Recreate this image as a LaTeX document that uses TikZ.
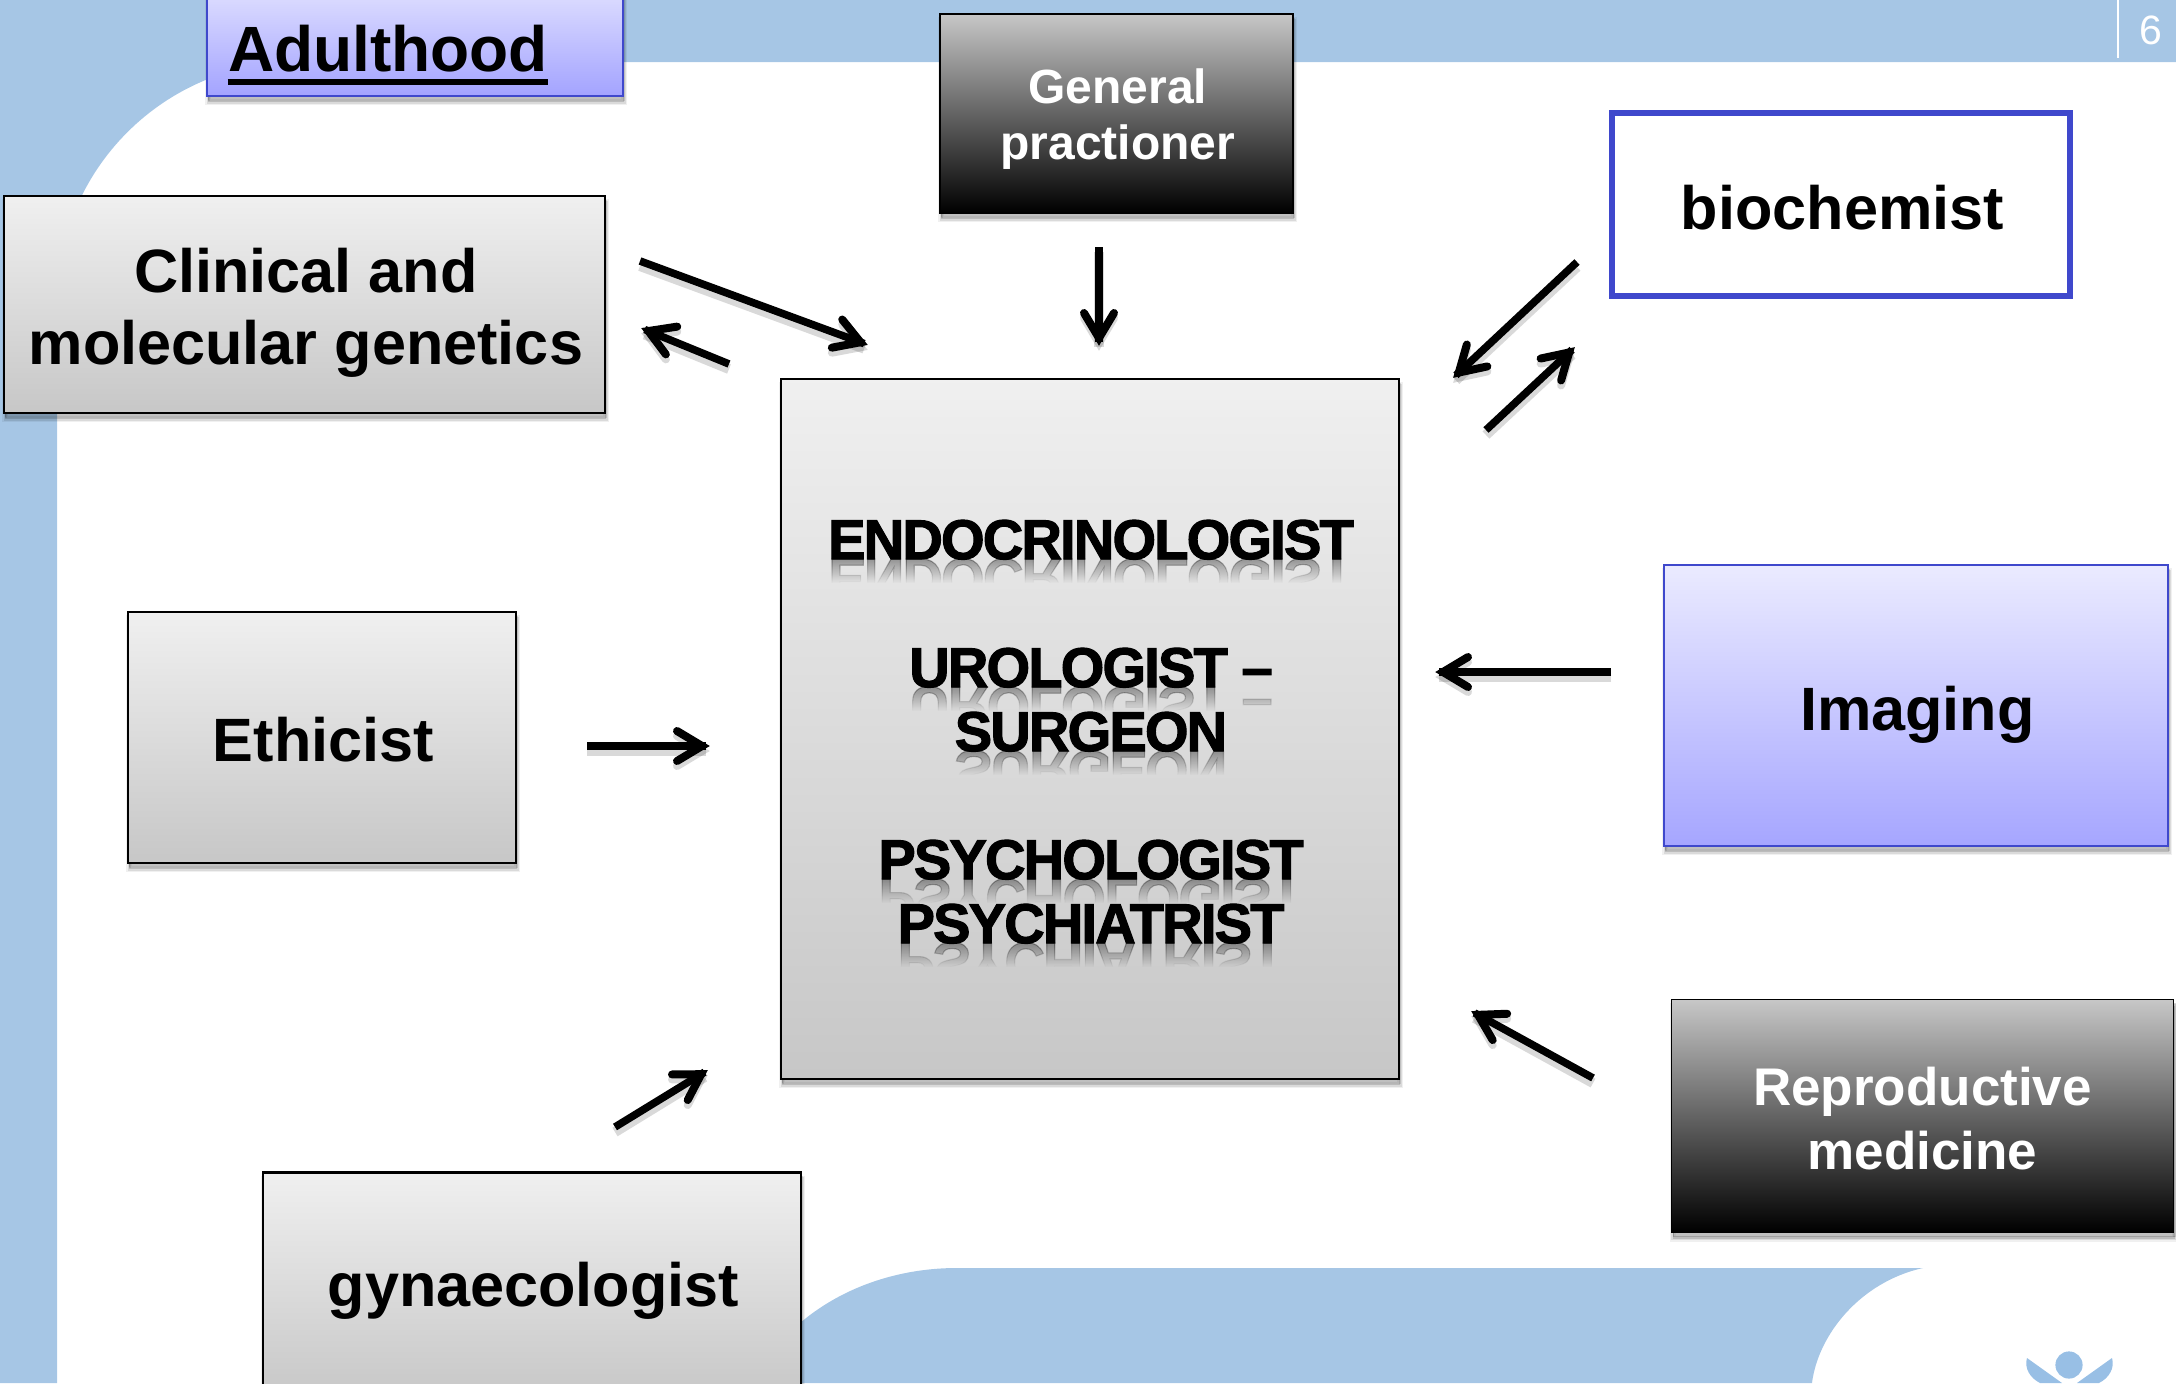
\documentclass[tikz,border=0pt]{standalone}
\usepackage{fontspec}
\setmainfont{Liberation Sans}
\newfontfamily\heavyf{Liberation Sans}[BoldFont={Liberation Sans Bold},BoldFeatures={FakeBold=2,LetterSpace=-3.2}]
\usetikzlibrary{arrows,arrows.meta,shadows,fadings}
\definecolor{band}{HTML}{A6C6E5}
\definecolor{logoblue}{HTML}{98BFE5}
\definecolor{edgeblue}{HTML}{3F48CC}
\tikzfading[name=reflfade, top color=transparent!65, bottom color=transparent!100]
\newcommand\dn[1]{\rule{0pt}{#1}\hspace*{1.4pt}}
\newcommand\rt{\hspace*{1.4pt}}
\newcommand\mirrorline[3]{%
  \begin{scope}[transparency group]
  \path[scope fading=reflfade,fit fading=true] (1091-300,#2) rectangle (1091+300,#2+24);
  \node[mirrortext] (#1) at (1091,#2) {#3};
  \end{scope}}
\pgfarrowsdeclare{flatbarb}{flatbarb}{\pgfarrowsleftextend{-14.5pt}\pgfarrowsrightextend{2pt}}{%
  \pgfsetdash{}{0pt}\pgfsetroundcap\pgfsetmiterjoin\pgfsetlinewidth{4pt}%
  \pgfpathmoveto{\pgfpoint{-14.5pt}{7.5pt}}%
  \pgfpathlineto{\pgfpoint{-2pt}{0pt}}%
  \pgfpathlineto{\pgfpoint{-14.5pt}{-7.5pt}}%
  \pgfusepathqstroke}
\tikzset{
  softshadow/.style={
    general shadow={shadow xshift=.6pt,shadow yshift=-3pt,draw=black,fill=black,line width=3pt,opacity=.06},
    general shadow={shadow xshift=.6pt,shadow yshift=-3pt,draw=black,fill=black,line width=1.5pt,opacity=.09},
    general shadow={shadow xshift=.6pt,shadow yshift=-2pt,draw=black,fill=black,line width=.2pt,opacity=.12}},
  boxbase/.style={rectangle,softshadow,inner sep=0pt,align=center,font=\bfseries},
  graybox/.style={boxbase,draw=black,line width=1.1pt,top color=gray!12!white,bottom color=black!22!white},
  darkbox/.style={boxbase,draw=black,line width=.9pt,top color=black!22,bottom color=black,text=white},
  bluebox/.style={boxbase,draw=edgeblue,line width=1pt,top color=blue!8!white,bottom color=blue!35!white},
  outlinebox/.style={rectangle,draw=edgeblue,line width=2.8pt,fill=white,inner sep=0pt,align=center,font=\bfseries},
  big/.style={font=\bfseries\fontsize{30.6pt}{36pt}\selectfont},
  linkarrow/.style={draw=black,line width=3.8pt,-flatbarb,
    preaction={draw=black,draw opacity=.15,line width=5pt,transform canvas={yshift=-2.5pt}}},
  mirrortext/.style={yscale=-1,transform shape,anchor=base,inner sep=0pt,text=black,
    font=\heavyf\bfseries\fontsize{28pt}{32pt}\selectfont},
  roletext/.style={anchor=base,inner sep=0pt,align=center,font=\heavyf\bfseries\fontsize{28pt}{32pt}\selectfont}
}
\begin{document}
\begin{tikzpicture}[x=.5pt,y=-.5pt]
\useasboundingbox (0,0) rectangle (2176,1383);
\clip (0,0) rectangle (2176,1383);
% slide background
\fill[band] (0,0) -- (2176,0) -- (2176,62) -- (297,62)
  arc[start angle=90,end angle=180,radius=120pt] -- (57,1383) -- (0,1383) -- cycle;
\fill[band] (752,1383) .. controls (790,1310) and (870,1268) .. (957,1268)
  -- (1923,1268) .. controls (1860,1282) and (1818,1335) .. (1812,1383) -- cycle;
\draw[white,line width=1pt] (2118,0) -- (2118,58);
\node[text=white,inner sep=0pt,font=\fontsize{20.5pt}{22pt}\selectfont] (pagenum) at (2151,30) {6};
% logo
\fill[logoblue] (2069,1365) circle[radius=6.8pt];
\fill[logoblue] (2027,1358) -- (2062,1383) -- (2040,1383) .. controls (2030,1378) and (2024,1368) .. cycle;
\fill[logoblue] (2112,1358) -- (2077,1383) -- (2099,1383) .. controls (2109,1378) and (2115,1368) .. cycle;
% boxes
\node[bluebox,minimum width=208pt,minimum height=60pt,top color=blue!10!white,bottom color=blue!36!white] (adultbox) at (415,36) {};
\node[anchor=base,inner sep=0pt,font=\bfseries\fontsize{32pt}{36pt}\selectfont] (adult) at (388,71) {Adulthood};
\draw[line width=2.75pt] ([yshift=-5.5pt]adult.base west) -- ([yshift=-5.5pt]adult.base east);
\node[darkbox,minimum width=176.5pt,minimum height=99.5pt,font=\bfseries\fontsize{24pt}{28pt}\selectfont] (gp) at (1116.5,113.5) {\dn{22.8pt}General\\\rt practioner};
\node[outlinebox,big,minimum width=229pt,minimum height=91.5pt] (bio) at (1841,204.5) {\dn{25.3pt}biochemist};
\node[graybox,big,minimum width=300.5pt,minimum height=108.5pt] (gen) at (304.5,304.5) {\dn{30.3pt}Clinical and\\\rt molecular genetics};
\node[graybox,minimum width=309pt,minimum height=350pt] (center) at (1090,729) {};
\node[graybox,big,minimum width=194pt,minimum height=125.5pt] (eth) at (322,737.5) {\dn{24.2pt}Ethicist};
\node[bluebox,big,minimum width=252pt,minimum height=140.5pt] (img) at (1916,705.5) {\dn{31.3pt}Imaging};
\node[darkbox,minimum width=251pt,minimum height=116.5pt,font=\bfseries\fontsize{26.5pt}{32pt}\selectfont] (repro) at (1922.5,1116) {\rule{0pt}{21.3pt}Reproductive\\medicine};
\node[graybox,big,minimum width=269pt,minimum height=113.5pt] (gyn) at (532,1286) {\dn{27.2pt}gynaecologist};
% reflections of the central text
\mirrorline{r1}{559}{ENDOCRINOLOGIST}
\mirrorline{r2}{687}{UROLOGIST –}
\mirrorline{r3}{751}{SURGEON}
\mirrorline{r4}{879}{PSYCHOLOGIST}
\mirrorline{r5}{943}{PSYCHIATRIST}
\node[roletext] (role1) at (1091,559) {ENDOCRINOLOGIST};
\node[roletext] (role2) at (1091,687) {UROLOGIST –};
\node[roletext] (role3) at (1091,751) {SURGEON};
\node[roletext] (role4) at (1091,879) {PSYCHOLOGIST};
\node[roletext] (role5) at (1091,943) {PSYCHIATRIST};
% arrow ends
\coordinate (a1s) at (640,261);  \coordinate (a1e) at (868,345);
\coordinate (a2s) at (729,364);  \coordinate (a2e) at (641,328);
\coordinate (a3s) at (1099,247); \coordinate (a3e) at (1099,346);
\coordinate (a4s) at (1577,262); \coordinate (a4e) at (1453,378);
\coordinate (a5s) at (1486,430); \coordinate (a5e) at (1575,347);
\coordinate (a6s) at (1611,672); \coordinate (a6e) at (1435,672);
\coordinate (a7s) at (587,746);  \coordinate (a7e) at (710,746);
\coordinate (a8s) at (1593,1078);\coordinate (a8e) at (1471,1011);
\coordinate (a9s) at (615,1127); \coordinate (a9e) at (708,1070);
\foreach \i in {1,...,9}{\draw[linkarrow] (a\i s) -- (a\i e);}
\end{tikzpicture}
\end{document}
